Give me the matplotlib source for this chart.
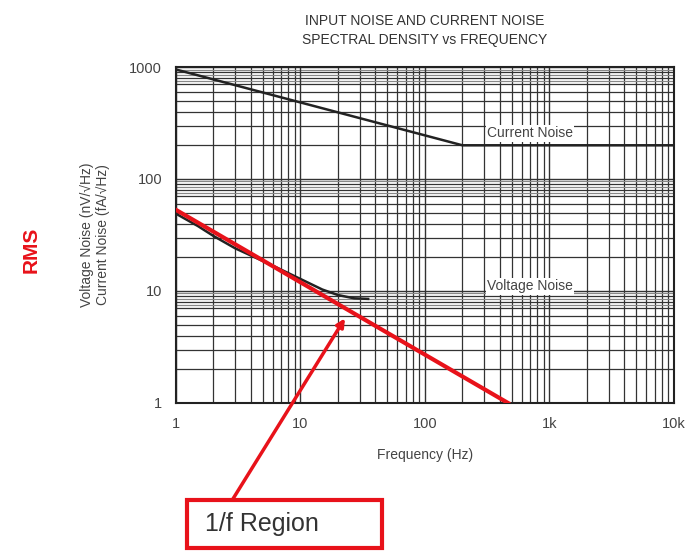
import matplotlib
matplotlib.use('Agg')
import matplotlib.pyplot as plt
from matplotlib.patches import Rectangle

# curve data
cur_freq = [1, 200, 10000]
cur_noise = [950, 200, 200]

volt_freq = [1, 1.5, 2, 3, 5, 7, 10, 15, 20, 27, 35]
volt_noise = [49, 38, 31, 24, 18.5, 15.5, 12.8, 10.3, 9.2, 8.6, 8.5]

onef_freq = [1, 465]
onef_noise = [53, 1]

x_ticks = [1, 10, 100, 1000, 10000]
x_labels = ['1', '10', '100', '1k', '10k']
y_ticks = [1, 10, 100, 1000]
y_labels = ['1', '10', '100', '1000']

plt.rcParams['font.family'] = ['Liberation Sans', 'DejaVu Sans']

fig = plt.figure(figsize=(6.89, 5.52), dpi=100)
ax = fig.add_axes([0.2554, 0.27, 0.7226, 0.6086])
ax.set_xscale('log')
ax.set_yscale('log')
ax.set_xlim(1, 10000)
ax.set_ylim(1, 1000)

# dense grid
for dec in [1, 10, 100, 1000]:
    for m in range(2, 10):
        ax.axvline(dec * m, color='#333333', lw=0.9, zorder=1)
for dec in [1, 10, 100]:
    for m in range(2, 10):
        ax.axhline(dec * m, color='#333333', lw=0.9, zorder=1)
    for m in [7.5, 8.5, 9.5]:
        ax.axhline(dec * m, color='#888888', lw=0.9, zorder=1)
for v in y_ticks:
    ax.axhline(v, color='#333333', lw=1.0, zorder=1)
for v in x_ticks:
    ax.axvline(v, color='#333333', lw=1.0, zorder=1)

ax.plot(cur_freq, cur_noise, color='#222222', lw=1.8, zorder=3)
ax.plot(volt_freq, volt_noise, color='#222222', lw=1.8, zorder=3)
ax.plot(onef_freq, onef_noise, color='#e8121a', lw=3, zorder=4)

ax.text(700, 255, 'Current Noise', ha='center', va='center', fontsize=10,
        color='#444444', zorder=5,
        bbox=dict(facecolor='white', edgecolor='none', pad=1))
ax.text(700, 11, 'Voltage Noise', ha='center', va='center', fontsize=10,
        color='#444444', zorder=5,
        bbox=dict(facecolor='white', edgecolor='none', pad=1))

ax.set_xticks(x_ticks)
ax.set_xticklabels(x_labels)
ax.set_yticks(y_ticks)
ax.set_yticklabels(y_labels)
ax.minorticks_off()
ax.tick_params(length=0, labelsize=10.5, labelcolor='#444444', pad=10)
for s in ax.spines.values():
    s.set_linewidth(1.5)
    s.set_color('#222222')

ax.set_xlabel('Frequency (Hz)', fontsize=10, color='#444444', labelpad=12)
ax.set_ylabel('Voltage Noise (nV/\u221aHz)\nCurrent Noise (fA/\u221aHz)',
              fontsize=10, color='#444444', labelpad=14)

fig.text(0.617, 0.945, 'INPUT NOISE AND CURRENT NOISE\nSPECTRAL DENSITY vs FREQUENCY',
         ha='center', va='center', fontsize=10, color='#333333', linespacing=1.5)

fig.text(0.045, 0.548, 'RMS', rotation=90, ha='center', va='center',
         fontsize=15, fontweight='bold', color='#e8121a')

# 1/f region callout
ax.annotate('', xy=(22.8, 5.7), xytext=(0.337, 0.094),
            xycoords='data', textcoords='figure fraction',
            arrowprops=dict(arrowstyle='-|>', color='#e8121a', lw=2.5,
                            mutation_scale=12, shrinkA=0, shrinkB=0),
            annotation_clip=False, zorder=6)
fig.patches.append(Rectangle((0.271, 0.008), 0.284, 0.087, transform=fig.transFigure,
                             facecolor='white', edgecolor='#e8121a', lw=3))
fig.text(0.297, 0.051, '1/f Region', ha='left', va='center', fontsize=18,
         color='#333333')

fig.savefig('out.png', dpi=100)
